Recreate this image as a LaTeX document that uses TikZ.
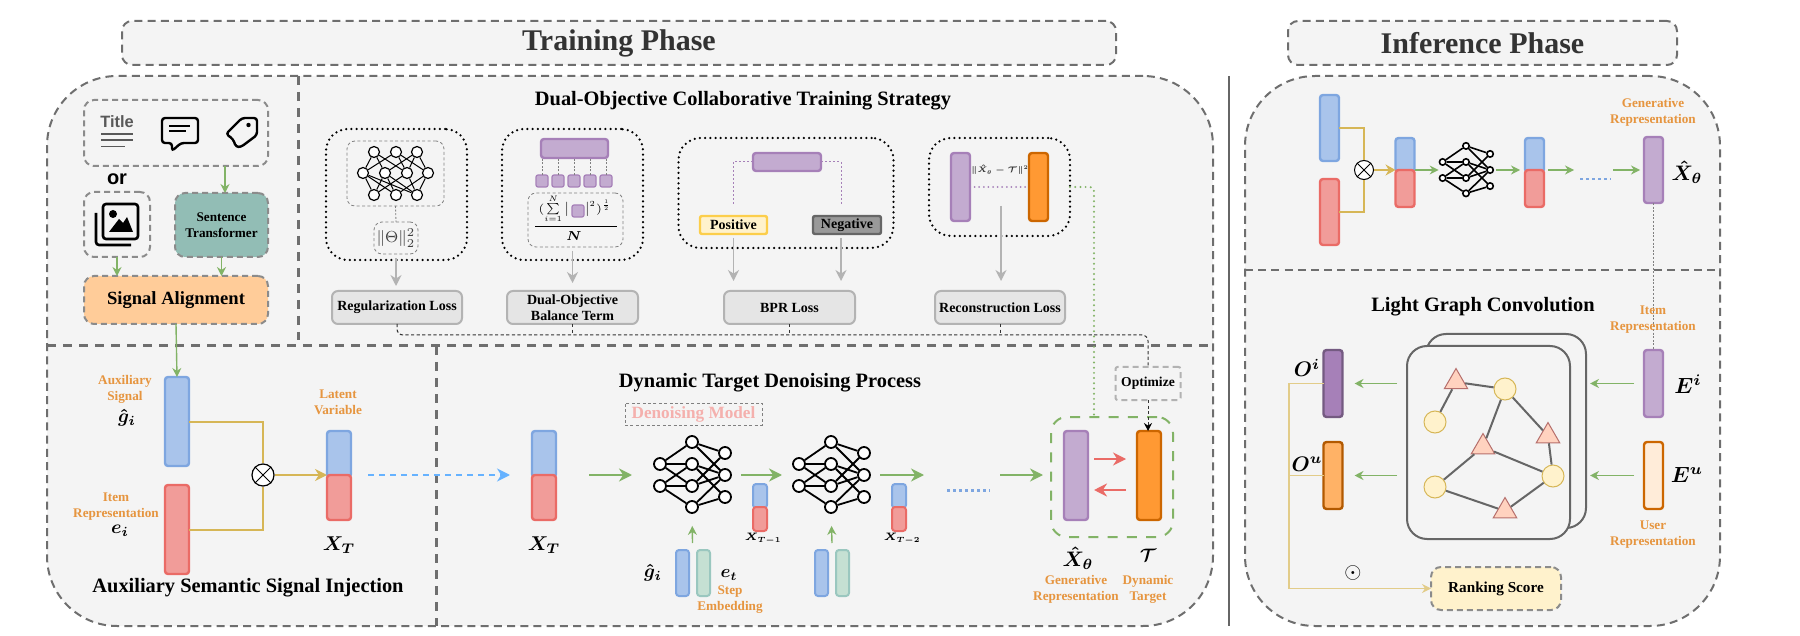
\RequirePackage{fix-cm}
\documentclass[tikz,border=0pt]{standalone}
\usepackage{amsmath,amssymb}
\usepackage[no-math]{fontspec}
\setmainfont{Liberation Serif}
\newfontfamily\iconfont{Liberation Sans}
\usetikzlibrary{arrows.meta,shapes.geometric}

\definecolor{panelfill}{HTML}{F4F4F4}
\definecolor{dashgray}{HTML}{6E6E6E}
\definecolor{blueline}{HTML}{7EA6E0}
\definecolor{bluefill}{HTML}{A9C4EB}
\definecolor{redline}{HTML}{EA6B66}
\definecolor{redfill}{HTML}{F19C99}
\definecolor{purpleline}{HTML}{A680B8}
\definecolor{purplefill}{HTML}{C3ABD0}
\definecolor{orangeline}{HTML}{CC6600}
\definecolor{orangefill}{HTML}{FF9933}
\definecolor{mintline}{HTML}{9AC7BF}
\definecolor{mintfill}{HTML}{C5E0D3}
\definecolor{flowgreen}{HTML}{82B366}
\definecolor{goldline}{HTML}{D6B656}
\definecolor{labelorange}{HTML}{E6953F}
\definecolor{lossgray}{HTML}{B3B3B3}
\definecolor{cream}{HTML}{FFF2CC}
\definecolor{skyarrow}{HTML}{66B2FF}

% one copy of the denoising network: prefix, x, y, scale, node size, line width
\newcommand{\denoisenet}[6]{%
	\begin{scope}[shift={(#2,#3)},scale=#4,name prefix=#1-]
		\foreach \n/\px/\py in {l1/-32/-11,l2/-32/11,m1/0/-33,m2/0/-11,m3/0/11,m4/0/32,r1/33/-22,r2/33/0,r3/33/22}
		\node[nnode=#5,line width=#6] (\n) at (\px,\py) {};
		\coordinate (in) at (-49,0);
		\coordinate (out) at (49,0);
		\foreach \a/\b in {l1/m1,l1/m2,l1/m3,l2/m2,l2/m3,l2/m4,m1/r1,m1/r2,m2/r2,m2/r3,m3/r1,m3/r2,m4/r2,m4/r3}
		\draw[line width=#6] (\a) -- (\b);
	\end{scope}
}

\begin{document}
\begin{tikzpicture}[
		x=0.5pt,y=-0.5pt,
		sz/.style 2 args={minimum width=#1*0.5pt,minimum height=#2*0.5pt,inner sep=0pt,outer sep=0pt},
		panel/.style={draw=dashgray,fill=panelfill,line width=1pt,dash pattern=on 4pt off 2.6pt,rounded corners=35pt},
		header/.style={draw=dashgray,fill=panelfill,line width=1pt,dash pattern=on 4pt off 2.6pt,rounded corners=5pt,text=black!80,font=\fontsize{15}{18}\selectfont\bfseries},
		divider/.style={draw=dashgray,line width=1.5pt,dash pattern=on 4.5pt off 3.5pt},
		title/.style={font=\fontsize{10.2}{12}\selectfont\bfseries},
		inbox/.style={draw=dashgray!80,line width=1pt,dash pattern=on 3pt off 2pt,rounded corners=5pt},
		frame/.style={draw=black,line width=1.25pt,line cap=round,dash pattern=on 0pt off 2.6pt,rounded corners=11pt},
		thinbox/.style={draw=gray,line width=0.4pt,dash pattern=on 1.5pt off 1.2pt,rounded corners=4pt},
		loss/.style={draw=lossgray,fill=black!10,line width=1pt,rounded corners=3pt,align=center,font=\fontsize{7}{8.2}\selectfont\bfseries},
		tag/.style={text=labelorange,align=center,font=\fontsize{6.6}{8}\selectfont\bfseries},
		sym/.style={font=\fontsize{#1}{12}\selectfont},
		vbar/.style={rounded corners=1.5pt,line width=1.2pt,inner sep=0pt},
		bluebar/.style={vbar,draw=blueline,fill=bluefill},
		redbar/.style={vbar,draw=redline,fill=redfill},
		purplebar/.style={vbar,draw=purpleline,fill=purplefill},
		orangebar/.style={vbar,draw=orangeline,fill=orangefill},
		mintbar/.style={vbar,draw=mintline,fill=mintfill},
		nnode/.style={circle,draw=black,fill=white,inner sep=0pt,minimum size=#1},
		flow/.style={draw=flowgreen,line width=1.1pt,-{Stealth[length=6.5pt,width=6.5pt]}},
		thinflow/.style={draw=flowgreen,line width=0.7pt,-{Stealth[length=4.5pt,width=4.5pt]}},
		goldflow/.style={draw=goldline,line width=1pt},
		grayflow/.style={draw=lossgray,line width=0.8pt,-{Stealth[length=5.5pt,width=5.5pt]}},
		optline/.style={draw=black!80,line width=0.5pt,dash pattern=on 1.6pt off 1.2pt,rounded corners=3pt},
		greendots/.style={draw=flowgreen,line width=1.1pt,line cap=round,dash pattern=on 0pt off 2.6pt,rounded corners=2pt},
		purpledots/.style={draw=purpleline,line width=0.5pt,dash pattern=on 1pt off 1pt},
		graydots/.style={draw=gray,line width=0.4pt,dash pattern=on 1pt off 0.8pt},
		bluedots/.style={draw=blueline,line width=1.5pt,dash pattern=on 1.5pt off 1.5pt},
		circ/.style={circle,draw=goldline,fill=cream,line width=0.5pt,minimum size=11pt,inner sep=0pt},
		tri/.style={regular polygon,regular polygon sides=3,draw=redline!70!black!80,fill=red!40!orange!25!white,line width=0.5pt,minimum size=13.5pt,inner sep=0pt},
		edge/.style={draw=black!60,line width=1pt}
	]
	\useasboundingbox (0,0) rectangle (1800,636);
	
	% --------------------------------------------------
	% Panels and headers
	% --------------------------------------------------
	\node[header,sz={994}{44}] (trainhead) at (619,43) {Training Phase};
	\node[header,sz={389}{44}] (inferhead) at (1482.5,43) {Inference Phase};
	\node[panel,sz={1166}{550}] (trainpanel) at (630,351) {};
	\node[panel,sz={475}{550}] (inferpanel) at (1482.5,351) {};
	\coordinate (midtrain) at (0,346);
	\coordinate (midinfer) at (0,270);
	\draw[divider] (trainpanel.west |- midtrain) -- (trainpanel.east |- midtrain);
	\draw[divider] (298,76) -- (298,340);
	\draw[divider] (436,346) -- (436,626);
	\draw[panel,rounded corners=0pt] (inferpanel.west |- midinfer) -- (inferpanel.east |- midinfer);
	\draw[black!60,line width=1pt] (1229,76) -- (1229,626);
	
	% --------------------------------------------------
	% Input signals
	% --------------------------------------------------
	\node[inbox,sz={184}{66}] (textbox) at (176,133) {};
	\node[inbox,sz={66}{65}] (imgbox) at (117,224.5) {};
	\node[inbox,fill=mintline!95!black,sz={93}{64},align=center,font=\fontsize{6.6}{8}\selectfont\bfseries] (sentbox) at (221.5,225) {Sentence\\Transformer};
	\node[inbox,fill=orange!40!white,sz={184}{48},font=\fontsize{9.3}{12}\selectfont\bfseries] (alignbox) at (176,300) {Signal Alignment};
	\node[font=\iconfont\fontsize{10}{12}\selectfont\bfseries] (ortext) at (117,179) {or};
	
	% icon: title
	\node[text=black!65,font=\iconfont\fontsize{8.2}{10}\selectfont\bfseries] (titleicon) at (117,122) {Title};
	\draw[black!65,line width=0.8pt] (101,134) -- (133,134) (101,140) -- (133,140) (101,146.5) -- (125,146.5);
	% icon: comment
	\draw[line width=1.2pt,rounded corners=1.5pt] (172,143) -- (162,143) -- (162,118) -- (198,118) -- (198,143) -- (181,143) -- (172,151) -- cycle;
	\draw[line width=1pt] (169,126) -- (190,126) (169,131.5) -- (186,131.5);
	% icon: tag
	\draw[line width=1.2pt,rounded corners=1.5pt,line join=round] (226,134) -- (242,118) -- (257,118) -- (257,135) -- (241,147) -- (236,147) -- (233,139) -- cycle;
	\fill (248.5,125) circle (1.1pt);
	% icon: pictures
	\draw[line width=1.3pt,rounded corners=1.5pt] (103,204) rectangle (138,239);
	\draw[line width=1.3pt,rounded corners=1.5pt] (96,213) -- (96,245) -- (131,245);
	\fill (113,214) circle (2pt);
	\fill (109,232) -- (119,219) -- (123,223) -- (127,217) -- (133,232) -- cycle;
	
	\draw[thinflow] ([xshift=1.75pt]sentbox.north |- textbox.south) -- ([xshift=1.75pt]sentbox.north);
	\draw[thinflow] (imgbox.south) -- (imgbox.south |- alignbox.north);
	\draw[thinflow] (sentbox.south) -- (sentbox.south |- alignbox.north);
	
	% --------------------------------------------------
	% Auxiliary signal injection
	% --------------------------------------------------
	\node[bluebar,sz={24}{89}] (auxbar) at (177,421.5) {};
	\node[redbar,sz={24}{89}] (itembar) at (177,529.5) {};
	\node[circle,draw=black,fill=white,line width=0.6pt,minimum size=11pt,inner sep=0pt] (cross) at (263,475) {};
	\draw[line width=0.5pt] (cross.north east) -- (cross.south west) (cross.north west) -- (cross.south east);
	\node[bluebar,sz={24}{46}] (latblue) at (339,454) {};
	\node[redbar,sz={24}{45}] (latred) at (339,497.5) {};
	
	\draw[thinflow] (alignbox.south) -- (auxbar.north);
	\draw[goldflow] (auxbar.east) -| (cross.north);
	\draw[goldflow] (itembar.east) -| (cross.south);
	\draw[goldflow,-{Stealth[length=6pt,width=6pt]}] (cross.east) -- (latred.north west);
	
	\node[tag] (auxtag) at (125,389) {Auxiliary\\Signal};
	\node[sym=9.5] (auxsym) at (127,418) {$\boldsymbol{\hat{g}_i}$};
	\node[tag] (itemtag) at (116,507) {Item\\Representation};
	\node[sym=9.5] (itemsym) at (120,531) {$\boldsymbol{e_i}$};
	\node[tag] (lattag) at (338,402) {Latent\\Variable};
	\node[sym=10] (latsym) at (339,545) {$\boldsymbol{X_T}$};
	\node[title] (injecttitle) at (248,588) {Auxiliary Semantic Signal Injection};
	
	% --------------------------------------------------
	% Dual-objective training strategy
	% --------------------------------------------------
	\node[title] (strategytitle) at (743,101) {Dual-Objective Collaborative Training Strategy};
	
	\node[frame,sz={141}{131}] (regframe) at (396.5,194.5) {};
	\node[thinbox,sz={97}{65}] (regnet) at (395.5,173.5) {};
	\foreach \n/\px/\py in {t1/374/152,t2/396/152,t3/417/152,m1/363/173,m2/385/173,m3/407/173,m4/428/173,b1/374/195,b2/396/195,b3/417/195}
	\node[nnode=5.5pt,line width=0.6pt] (\n) at (\px,\py) {};
	\foreach \a/\b in {t1/m1,t1/m2,t1/m3,t2/m1,t2/m3,t2/m4,t3/m2,t3/m3,t3/m4,m1/b1,m1/b2,m1/b3,m2/b1,m2/b2,m2/b3,m3/b1,m3/b3,m4/b2,m4/b3}
	\draw[line width=0.5pt] (\a) -- (\b);
	\node[thinbox,sz={44}{32},text=black!75,font=\fontsize{8}{10}\selectfont] (thetabox) at (396,238) {$\|\Theta\|_2^2$};
	\draw[graydots] (regnet.south) -- (thetabox.north);
	
	\node[frame,sz={141}{131}] (dualframe) at (572.5,194.5) {};
	\node[purplebar,sz={67}{19}] (dualbar) at (574.5,148.5) {};
	\foreach \i/\px in {1/542,2/558,3/574,4/590,5/606}{
		\node[purplebar,line width=0.6pt,rounded corners=1pt,sz={12}{12}] (sq\i) at (\px,181) {};
		\draw[graydots] (sq\i.north) -- (sq\i.north |- dualbar.south);
	}
	\node[thinbox,sz={95}{54}] (balbox) at (575.5,220) {};
	\node[sym=5.6] (balnum) at (575,209) {$(\sum\limits_{i=1}^{N}\big|\hspace{8pt}\big|^{2})^{\frac{1}{2}}$};
	\node[purplebar,line width=0.6pt,rounded corners=1pt,sz={12}{12}] (sqin) at (578,211) {};
	\node[sym=6.5] (balden) at (574,236) {$\boldsymbol{N}$};
	\coordinate (fracy) at (0,227);
	\draw[line width=0.5pt] ([xshift=3.5pt]balbox.west |- fracy) -- ([xshift=-3pt]balbox.east |- fracy);
	
	\node[frame,sz={215}{110}] (bprframe) at (786,193) {};
	\node[purplebar,sz={68}{18}] (bprbar) at (787,162) {};
	\node[vbar,draw=yellow!50!orange!70,fill=cream,rounded corners=1pt,sz={67}{18},font=\fontsize{7}{8}\selectfont\bfseries] (posbox) at (733.5,225) {Positive};
	\node[vbar,draw=black!60,fill=black!40,rounded corners=1pt,sz={68}{18},font=\fontsize{7}{8}\selectfont\bfseries] (negbox) at (847,225) {Negative};
	\coordinate (negout) at (841,238);
	\coordinate (recout) at (1001,206);
	\draw[purpledots] (bprbar.west) -| ([yshift=5pt]posbox.north);
	\draw[purpledots] (bprbar.east) -| ([yshift=5pt]negout |- negbox.north);
	
	\node[frame,sz={141}{98}] (recframe) at (999.5,187) {};
	\node[purplebar,sz={19}{68}] (recpurple) at (960.5,187) {};
	\node[orangebar,sz={19}{68}] (recorange) at (1038.5,187) {};
	\draw[purpledots,line width=1pt,line cap=round,dash pattern=on 0pt off 2.3pt] (recpurple.east) -- (recorange.west);
	\node[sym=4,text=black!80] (recformula) at (1000,170) {$\boldsymbol{\|\hat{X}_\theta-\mathcal{T}\|^2}$};
	
	\node[loss,sz={130}{33}] (regloss) at (397,307.5) {Regularization Loss};
	\node[loss,sz={131}{33}] (dualloss) at (572.5,307.5) {Dual-Objective\\Balance Term};
	\node[loss,sz={131}{33}] (bprloss) at (789.5,307.5) {BPR Loss};
	\node[loss,sz={130}{33}] (recloss) at (1000,307.5) {Reconstruction Loss};
	
	\draw[grayflow,shorten <=2pt,shorten >=2.5pt] (thetabox.south) -- (thetabox.south |- regloss.north);
	\draw[grayflow,shorten <=2pt,shorten >=4pt] (balbox.south -| dualloss) -- (dualloss.north);
	\draw[grayflow,shorten <=2pt,shorten >=5pt] (posbox.south) -- (posbox.south |- bprloss.north);
	\draw[grayflow,shorten >=5pt] (negout) -- (negout |- bprloss.north);
	\draw[grayflow,shorten >=5pt] (recout) -- (recout |- recloss.north);
	
	% --------------------------------------------------
	% Dynamic target denoising
	% --------------------------------------------------
	\node[title] (denoisetitle) at (770,383) {Dynamic Target Denoising Process};
	\node[thinbox,sz={137}{22},rounded corners=0pt,text=redfill!80!white,font=\fontsize{8.6}{10}\selectfont\bfseries] (modelbox) at (693.5,414) {Denoising Model};
	
	\node[bluebar,sz={24}{46}] (xtblue) at (544,454) {};
	\node[redbar,sz={24}{45}] (xtred) at (544,497.5) {};
	\node[sym=10] (xtsym) at (544,545) {$\boldsymbol{X_T}$};
	\draw[draw=skyarrow,line width=1pt,dash pattern=on 3pt off 2.5pt,-{Stealth[length=6.5pt,width=6.5pt]},shorten <=8.5pt,shorten >=11pt] (latred.north east) -- (xtred.north west);
	
	\denoisenet{dna}{692}{475}{1}{6pt}{0.9pt}
	\denoisenet{dnb}{831}{475}{1}{6pt}{0.9pt}
	
	\node[bluebar,line width=1pt,sz={14}{24}] (stepablue) at (760,496) {};
	\node[redbar,line width=1pt,sz={14}{24}] (stepared) at (760,519) {};
	\node[sym=5.4] (stepasym) at (763,539) {$\boldsymbol{X_{T-1}}$};
	\node[bluebar,line width=1pt,sz={14}{24}] (stepbblue) at (899,496) {};
	\node[redbar,line width=1pt,sz={14}{24}] (stepbred) at (899,519) {};
	\node[sym=5.4] (stepbsym) at (902,539) {$\boldsymbol{X_{T-2}}$};
	
	\node[bluebar,line width=1pt,sz={13}{46}] (conda) at (682.5,573) {};
	\node[mintbar,line width=1pt,sz={13}{46}] (stepa) at (703.5,573) {};
	\node[bluebar,line width=1pt,sz={13}{46}] (condb) at (821.5,573) {};
	\node[mintbar,line width=1pt,sz={13}{46}] (stepb) at (842.5,573) {};
	\node[sym=9.5] (condsym) at (653,573) {$\boldsymbol{\hat{g}_i}$};
	\node[sym=9] (stepsym) at (729,575) {$\boldsymbol{e_t}$};
	\node[tag] (steptag) at (730,600) {Step\\Embedding};
	\coordinate (upa) at (692.5,543);
	\coordinate (upb) at (832,543);
	\draw[thinflow,shorten >=6pt] (upa) -- (dna-m4);
	\draw[thinflow,shorten >=6pt] (upb) -- (dnb-m4);
	
	\coordinate (xtout) at (589,475);
	\coordinate (dotsa) at (947,490);
	\coordinate (dotsb) at (990,490);
	\coordinate (toloop) at (1000,475);
	\draw[flow,shorten >=5.5pt] (xtout) -- (dna-in);
	\draw[flow] (dna-out) -- (dnb-in);
	\draw[flow] (dnb-out) -- ++(44,0);
	\draw[bluedots] (dotsa) -- (dotsb);
	
	% target loop
	\node[draw=flowgreen,line width=1pt,dash pattern=on 5pt off 4.6pt,rounded corners=8pt,sz={122}{120}] (loopbox) at (1112,477) {};
	\node[purplebar,sz={24}{89}] (genbar) at (1076,475.5) {};
	\node[orangebar,sz={24}{89}] (targetbar) at (1149,475.5) {};
	\coordinate (gena) at (1094,459);
	\coordinate (targa) at (1126,459);
	\coordinate (genb) at (1094,490);
	\coordinate (targb) at (1126,490);
	\draw[draw=redline,line width=1pt,-{Stealth[length=6.5pt,width=6.5pt]}] (gena) -- (targa);
	\draw[draw=redline,line width=1pt,-{Stealth[length=6.5pt,width=6.5pt]}] (targb) -- (genb);
	\draw[flow,shorten >=4pt] (toloop) -- (toloop -| loopbox.west);
	
	\node[sym=10.5] (gensym) at (1078,558) {$\boldsymbol{\hat{X}_\theta}$};
	\node[sym=9] (targetsym) at (1148,555) {$\boldsymbol{\mathcal{T}}$};
	\node[tag] (gentag) at (1076,589) {Generative\\Representation};
	\node[tag] (targettag) at (1148,589) {Dynamic\\Target};
	
	\node[inbox,draw=black!30,sz={65}{33},font=\fontsize{6.8}{8}\selectfont\bfseries,rounded corners=1pt] (optbox) at (1148,383.5) {Optimize};
	\coordinate (bus) at (0,335);
	\coordinate (dropx) at (1094,0);
	\draw[optline] (regloss.south) -- (regloss.south |- bus) -| (optbox.north);
	\draw[optline] (dualloss.south) -- (dualloss.south |- bus);
	\draw[optline] (bprloss.south) -- (bprloss.south |- bus);
	\draw[optline] (recloss.south) -- (recloss.south |- bus);
	\draw[optline,-{Stealth[length=4pt,width=4pt,black]}] (optbox.south) -- (optbox.south |- targetbar.north);
	\draw[greendots] (recframe.east) -| (dropx |- loopbox.north);
	
	% --------------------------------------------------
	% Inference: generation
	% --------------------------------------------------
	\node[bluebar,sz={19}{66}] (iauxbar) at (1329.5,128) {};
	\node[redbar,sz={19}{66}] (iitembar) at (1329.5,212) {};
	\node[circle,draw=black,fill=white,line width=0.5pt,minimum size=9.5pt,inner sep=0pt] (icross) at (1364,170) {};
	\draw[line width=0.4pt] (icross.north east) -- (icross.south west) (icross.north west) -- (icross.south east);
	\node[bluebar,sz={19}{34}] (ilatblue) at (1405,155) {};
	\node[redbar,sz={19}{37}] (ilatred) at (1405,188.5) {};
	\draw[goldflow] (iauxbar.east) -| (icross.north);
	\draw[goldflow] (iitembar.east) -| (icross.south);
	\draw[goldflow,-{Stealth[length=5pt,width=5.5pt]}] (icross.east) -- (ilatred.north west);
	
	\denoisenet{inet}{1466}{170}{0.73}{3.2pt}{0.8pt}
	
	\node[bluebar,sz={19}{34}] (inextblue) at (1534.5,155) {};
	\node[redbar,sz={19}{37}] (inextred) at (1534.5,188.5) {};
	\coordinate (idotsa) at (1580,179);
	\coordinate (idotsb) at (1611,179);
	\coordinate (istepout) at (1548,170);
	\coordinate (istepend) at (1574,170);
	\coordinate (ilastin) at (1613,170);
	\node[purplebar,sz={19}{66}] (ixhat) at (1653.5,170) {};
	\draw[thinflow] (ilatred.north east) -- (ilatred.north east -| inet-l1.west);
	\draw[thinflow,shorten <=1pt,shorten >=2.5pt] (inet-r2.east) -- (inextred.north west);
	\draw[thinflow] (istepout) -- (istepend);
	\draw[bluedots,line width=1.3pt] (idotsa) -- (idotsb);
	\draw[thinflow,shorten >=2pt] (ilastin) -- (ixhat.west);
	\node[sym=10.5] (ixhatsym) at (1687,172) {$\boldsymbol{\hat{X}_\theta}$};
	\node[tag] (igentag) at (1653,112) {Generative\\Representation};
	
	% --------------------------------------------------
	% Inference: light graph convolution
	% --------------------------------------------------
	\node[title] (lgctitle) at (1483,307) {Light Graph Convolution};
	\node[draw=black!60,line width=1pt,rounded corners=10pt,sz={160}{194}] (graphback) at (1506,431) {};
	\node[draw=black!60,fill=panelfill,line width=1pt,rounded corners=10pt,sz={163}{193}] (graphfront) at (1488.5,442.5) {};
	
	\node[circ] (ca) at (1435,422) {};
	\node[circ] (cb) at (1505,389) {};
	\node[circ] (cc) at (1435,487) {};
	\node[circ] (cd) at (1553,476) {};
	\node[tri] (ta) at (1456,382) {};
	\node[tri] (tb) at (1483,447) {};
	\node[tri] (tc) at (1548,436) {};
	\node[tri] (td) at (1505,511) {};
	\foreach \a/\b in {ca/ta,ta/cb,cb/tb,cb/tc,tc/cd,tb/cc,tb/cd,cc/td,td/cd}
	\draw[edge] (\a) -- (\b);
	
	\node[purplebar,sz={19}{67}] (eibar) at (1653.5,383.5) {};
	\node[vbar,draw=orange!80!black,fill=orange!15,sz={19}{67}] (eubar) at (1653.5,475.5) {};
	\node[vbar,draw=purpleline!70!black,fill=purpleline,sz={19}{67}] (oibar) at (1333,383.5) {};
	\node[vbar,draw=orange!70!black,fill=orange!60!white,sz={19}{67}] (oubar) at (1333,475.5) {};
	\draw[graydots] (ixhat.south) -- (eibar.north);
	
	\draw[thinflow,shorten <=5pt,shorten >=2pt] (eibar.west) -- (eibar.west -| graphback.east);
	\draw[thinflow,shorten <=5pt,shorten >=2pt] (eubar.west) -- (eubar.west -| graphback.east);
	\draw[thinflow,shorten <=5pt,shorten >=6pt] (graphfront.west |- oibar.east) -- (oibar.east);
	\draw[thinflow,shorten <=5pt,shorten >=6pt] (graphfront.west |- oubar.east) -- (oubar.east);
	
	\node[sym=11] (eisym) at (1688,384) {$\boldsymbol{E^i}$};
	\node[sym=11] (eusym) at (1687,475) {$\boldsymbol{E^u}$};
	\node[sym=10.5] (oisym) at (1307,368) {$\boldsymbol{O^i}$};
	\node[sym=10.5] (ousym) at (1307,464) {$\boldsymbol{O^u}$};
	\node[tag] (itemreptag) at (1653,320) {Item\\Representation};
	\node[tag] (userreptag) at (1653,535) {User\\Representation};
	
	\node[inbox,fill=cream,sz={130}{43},font=\fontsize{7.6}{9}\selectfont\bfseries] (rankbox) at (1496,588.5) {Ranking Score};
	\coordinate (rankcorner) at (1289,588.5);
	\draw[goldflow,draw=goldline!70!white,line width=0.7pt] (oubar.west) -- (oubar.west -| rankcorner);
	\draw[goldflow,draw=goldline!70!white,line width=0.7pt,-{Stealth[length=4.5pt,width=4.5pt]}] (oibar.west) -| (rankcorner) -- (rankbox.west);
	\node[sym=11] (dotsym) at (1353,573) {$\odot$};
\end{tikzpicture}
\end{document}
